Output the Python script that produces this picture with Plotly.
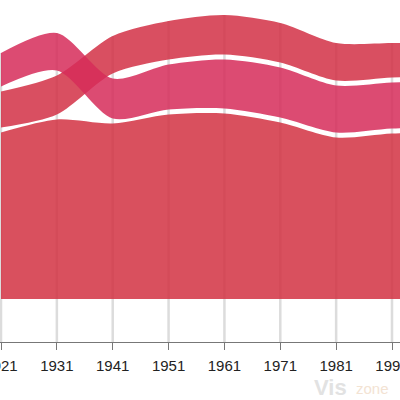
import plotly.graph_objects as go

# decade values (band thickness, arbitrary units)
years = [1921, 1931, 1941, 1951, 1961, 1971, 1981, 1991, 2001]
values_c = [166.5, 179.5, 175.5, 184.5, 185.5, 176.5, 161.5, 165.5, 166.5]
values_a = [33.5, 37.5, 40, 45, 49, 50, 47, 46, 46]
values_b = [36, 39, 37.5, 38.5, 39.5, 39.5, 37.5, 34.5, 34.5]
tick_years = [1921, 1931, 1941, 1951, 1961, 1971, 1981, 1991]

colors = {
    "C": "rgba(210,49,66,0.85)",
    "A": "rgba(214,44,89,0.85)",
    "B": "rgba(210,48,69,0.85)",
}
gap = 5

series = {"C": values_c, "A": values_a, "B": values_b}

# stack by rank each year: largest at the bottom, white gap between bands
lower = {k: [] for k in series}
upper = {k: [] for k in series}
stack_top = []
for i in range(len(years)):
    order = sorted(series, key=lambda k: -series[k][i])
    y = 0
    for j, k in enumerate(order):
        if j > 0:
            y += gap
        lower[k].append(y)
        y += series[k][i]
        upper[k].append(y)
    stack_top.append(y)

fig = go.Figure()
for k in ["C", "B", "A"]:
    fig.add_trace(go.Scatter(
        x=years, y=lower[k], mode="lines",
        line=dict(width=0, shape="spline", smoothing=0.8),
        hoverinfo="skip", showlegend=False,
    ))
    fig.add_trace(go.Scatter(
        x=years, y=upper[k], mode="lines", fill="tonexty",
        fillcolor=colors[k],
        line=dict(width=0, shape="spline", smoothing=0.8),
        name=k, showlegend=False,
    ))

# vertical grid lines, from the axis up to the top of the stack
for yr, top in zip(years, stack_top):
    fig.add_shape(type="line", x0=yr, x1=yr, y0=-43, y1=top,
                  xref="x", yref="y", layer="below",
                  line=dict(color="#dcdcdc", width=2.5))

px_per_year = 391 / 70
fig.update_layout(
    width=400, height=400,
    margin=dict(l=0, r=0, t=0, b=58, pad=0),
    plot_bgcolor="white", paper_bgcolor="white",
    xaxis=dict(
        range=[1921 - 1 / px_per_year, 1921 + 399 / px_per_year],
        tickvals=tick_years, ticktext=[str(t) for t in tick_years],
        showgrid=False, zeroline=False, automargin=False,
        showline=True, linecolor="#777", linewidth=1,
        ticks="outside", ticklen=7, tickcolor="#777", tickwidth=1,
        ticklabelstandoff=3, ticklabeloverflow="allow",
        tickfont=dict(family="Liberation Sans", size=15, color="#222"),
    ),
    yaxis=dict(range=[-43, 299], visible=False, automargin=False),
)

# faint watermark
fig.add_annotation(text="<b>Vis</b>", xref="paper", yref="paper",
                   x=0.825, y=-0.134, xanchor="center", yanchor="middle",
                   showarrow=False, borderpad=0,
                   font=dict(family="Liberation Sans", size=22, color="#e2e2e2"))
fig.add_annotation(text="zone", xref="paper", yref="paper",
                   x=0.93, y=-0.137, xanchor="center", yanchor="middle",
                   showarrow=False, borderpad=0,
                   font=dict(family="Liberation Sans", size=15, color="#f3e3d3"))

# drop the page's default body margin so the figure sits at the corner
fig.write_html("out.html", config={"displayModeBar": False},
               post_script="document.body.style.margin='0';")
